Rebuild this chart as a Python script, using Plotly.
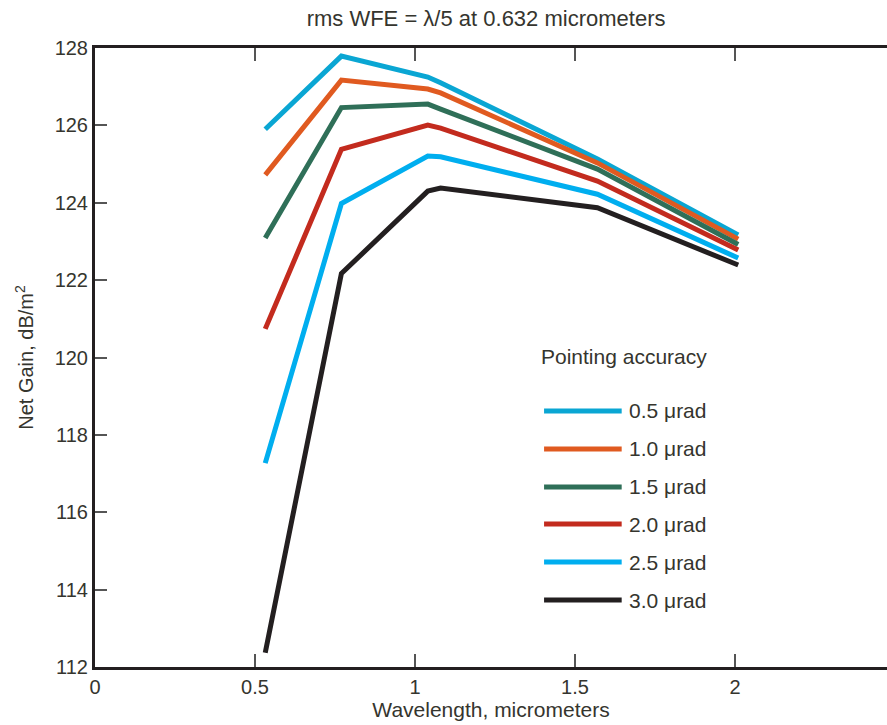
import plotly.graph_objects as go

wavelength = [0.532, 0.77, 1.04, 1.08, 1.57, 2.01]

series_names = ["0.5 μrad", "1.0 μrad", "1.5 μrad", "2.0 μrad", "2.5 μrad", "3.0 μrad"]
gain_05 = [125.90, 127.79, 127.25, 127.10, 125.13, 123.17]
gain_10 = [124.72, 127.17, 126.94, 126.84, 125.03, 123.06]
gain_15 = [123.09, 126.46, 126.55, 126.42, 124.87, 122.92]
gain_20 = [120.74, 125.38, 126.01, 125.93, 124.56, 122.78]
gain_25 = [117.27, 123.98, 125.21, 125.19, 124.22, 122.57]
gain_30 = [112.37, 122.17, 124.30, 124.38, 123.87, 122.39]
series_values = [gain_05, gain_10, gain_15, gain_20, gain_25, gain_30]
colors = ["#0aa6d3", "#e05a20", "#2f6f58", "#c32b1e", "#00aeef", "#231f20"]

x_ticks = [0, 0.5, 1, 1.5, 2]
x_tick_labels = ["0", "0.5", "1", "1.5", "2"]
y_ticks = [112, 114, 116, 118, 120, 122, 124, 126, 128]

TXT = "#35352e"
FONT = "Liberation Sans, Arial, sans-serif"

fig = go.Figure()
for name, vals, col in zip(series_names, series_values, colors):
    fig.add_trace(go.Scatter(x=wavelength, y=vals, mode="lines", name=name,
                             line=dict(color=col, width=5), showlegend=False))

# custom legend
leg_rows = [0.4136, 0.3522, 0.2908, 0.2310, 0.1696, 0.1082]
fig.add_annotation(xref="paper", yref="paper", x=0.560, y=0.501, text="Pointing accuracy",
                   showarrow=False, xanchor="left", yanchor="middle",
                   font=dict(size=21, color=TXT, family=FONT))
for name, col, yy in zip(series_names, colors, leg_rows):
    fig.add_shape(type="line", xref="paper", yref="paper", x0=0.567, x1=0.665, y0=yy, y1=yy,
                  line=dict(color=col, width=5))
    fig.add_annotation(xref="paper", yref="paper", x=0.672, y=yy, text=name,
                       showarrow=False, xanchor="left", yanchor="middle",
                       font=dict(size=21, color=TXT, family=FONT))

fig.update_layout(
    width=887, height=725,
    margin=dict(l=95, r=0, t=48, b=58),
    paper_bgcolor="white", plot_bgcolor="white",
    font=dict(family=FONT, color=TXT, size=20),
    title=dict(text="rms WFE = λ/5 at 0.632 micrometers", xref="container", x=0.548,
               xanchor="center", y=0.975, yanchor="middle",
               font=dict(size=22, color=TXT, family=FONT)),
)
fig.update_xaxes(range=[0, 2.475], tickvals=x_ticks, ticktext=x_tick_labels,
                 showline=True, linewidth=3, linecolor="#231f20", mirror="ticks",
                 ticks="inside", ticklen=13, tickwidth=1.5, tickcolor="#555",
                 showgrid=False, zeroline=False,
                 tickfont=dict(size=20, color=TXT),
                 title=dict(text="Wavelength, micrometers", font=dict(size=21, color=TXT), standoff=4))
fig.update_yaxes(range=[112, 128], tickvals=y_ticks,
                 showline=True, linewidth=3, linecolor="#231f20", mirror=False,
                 ticks="inside", ticklen=12, tickwidth=1.5, tickcolor="#555",
                 showgrid=False, zeroline=False,
                 tickfont=dict(size=20, color=TXT),
                 title=dict(text="Net Gain, dB/m<sup>2</sup>", font=dict(size=20, color=TXT), standoff=16))

fig.write_html("out.html")
